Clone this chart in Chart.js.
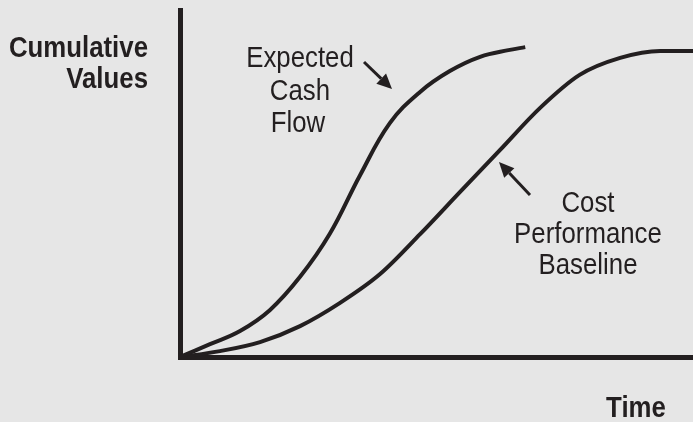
<!DOCTYPE html>
<html>
<head>
<meta charset="utf-8">
<script src="https://cdn.jsdelivr.net/npm/chart.js@4/dist/chart.umd.min.js"></script>
<style>
  html, body { margin: 0; padding: 0; background: #e6e6e6; }
  #wrap { width: 693px; height: 422px; position: relative; }
</style>
</head>
<body>
<div id="wrap"><canvas id="chart"></canvas></div>
<script>
// time axis 0..100, cumulative value axis 0..100 (unitless sketch)
const cashTime = [0, 5.85, 11.7, 17.5, 23.4, 29.2, 35.1, 40.9, 46.8, 52.6, 58.5, 64.3, 67.3];
const cashValue = [0, 3.7, 7.5, 13.5, 23.1, 35.5, 52.4, 67.4, 76.4, 82.4, 86.5, 88.5, 89.3];

const baseTime = [0, 7.8, 15.6, 23.4, 31.2, 39.0, 46.8, 54.6, 62.4, 70.2, 77.9, 85.8, 93.6, 100];
const baseValue = [0, 1.7, 4.3, 8.9, 15.6, 23.9, 35.4, 47.6, 59.7, 71.8, 81.3, 86.2, 88.2, 88.2];

const ink = '#231f20';
const face = '"Liberation Sans", Arial, sans-serif';

const toPoints = (xs, ys) => xs.map((x, i) => ({ x: x, y: ys[i] }));

// labels and arrows are drawn on top, in pixels like the printed figure
const notes = {
  id: 'notes',
  afterDraw(chart) {
    const ctx = chart.ctx;
    ctx.save();
    ctx.fillStyle = ink;
    ctx.textBaseline = 'alphabetic';

    // the print uses a condensed face, so squeeze the text a little
    const say = (text, x, y, align) => {
      ctx.save();
      ctx.translate(x, y);
      ctx.scale(0.89, 1);
      ctx.textAlign = align;
      ctx.fillText(text, 0, 0);
      ctx.restore();
    };

    ctx.font = 'bold 29px ' + face;
    say('Cumulative', 148, 57, 'right');
    say('Values', 148, 88, 'right');
    say('Time', 636, 417, 'center');

    ctx.font = '29px ' + face;
    say('Expected', 300, 67, 'center');
    say('Cash', 300, 100, 'center');
    say('Flow', 298, 132, 'center');
    say('Cost', 588, 212, 'center');
    say('Performance', 588, 243, 'center');
    say('Baseline', 588, 274, 'center');

    const arrow = (x1, y1, x2, y2) => {
      const a = Math.atan2(y2 - y1, x2 - x1);
      const len = 15, half = 7;
      const bx = x2 - len * Math.cos(a), by = y2 - len * Math.sin(a);
      ctx.strokeStyle = ink;
      ctx.lineWidth = 3;
      ctx.beginPath();
      ctx.moveTo(x1, y1);
      ctx.lineTo(bx, by);
      ctx.stroke();
      ctx.beginPath();
      ctx.moveTo(x2, y2);
      ctx.lineTo(bx + half * Math.sin(a), by - half * Math.cos(a));
      ctx.lineTo(bx - half * Math.sin(a), by + half * Math.cos(a));
      ctx.closePath();
      ctx.fill();
    };
    arrow(364, 62, 392, 89);
    arrow(530, 195, 499, 162);
    ctx.restore();
  }
};

new Chart(document.getElementById('chart'), {
  type: 'line',
  data: {
    datasets: [
      {
        label: 'Expected Cash Flow',
        data: toPoints(cashTime, cashValue),
        borderColor: ink,
        borderWidth: 4,
        pointRadius: 0,
        tension: 0.4,
        fill: false,
      },
      {
        label: 'Cost Performance Baseline',
        data: toPoints(baseTime, baseValue),
        borderColor: ink,
        borderWidth: 4,
        pointRadius: 0,
        cubicInterpolationMode: 'monotone',
        fill: false,
      },
    ],
  },
  options: {
    responsive: true,
    maintainAspectRatio: false,
    animation: false,
    layout: { padding: { left: 180, top: 10, right: 0, bottom: 65 } },
    plugins: { legend: { display: false }, tooltip: { enabled: false } },
    scales: {
      x: {
        type: 'linear',
        min: 0,
        max: 100,
        grid: { display: false, drawTicks: false },
        ticks: { display: false },
        border: { display: true, color: ink, width: 5 },
      },
      y: {
        min: 0,
        max: 100,
        grid: { display: false, drawTicks: false },
        ticks: { display: false },
        border: { display: true, color: ink, width: 5 },
      },
    },
  },
  plugins: [notes],
});
</script>
</body>
</html>
